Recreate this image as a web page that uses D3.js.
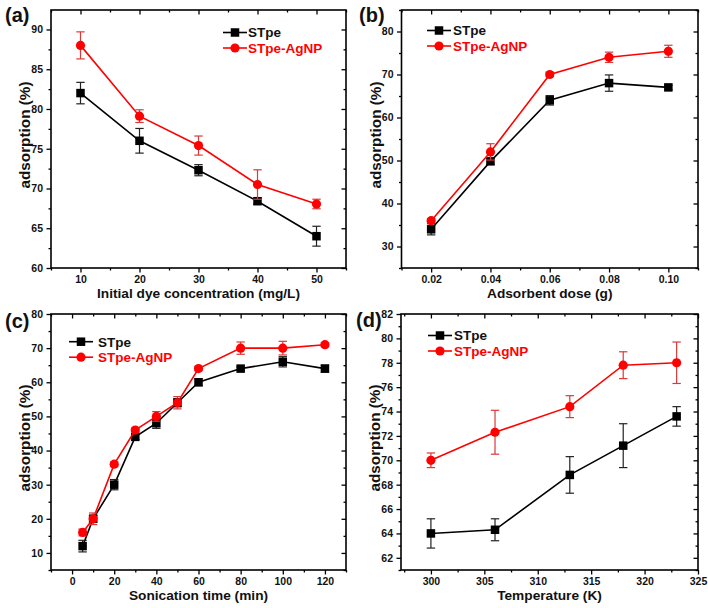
<!DOCTYPE html>
<html><head><meta charset="utf-8">
<script src="https://cdn.jsdelivr.net/npm/d3@7"></script>
<style>
body{margin:0;background:#fff}
text{font-family:"Liberation Sans",Arial,Helvetica,sans-serif;font-weight:bold;fill:#111}
</style>
</head><body>
<svg id="chart" width="708" height="608"></svg>
<script>
// ---------- data ----------
const seriesNames = ["STpe", "STpe-AgNP"];

// (a) initial dye concentration
const concX = [10, 20, 30, 40, 50];
const concSTpe = [82, 76, 72.3, 68.4, 64];
const concSTpeErr = [1.35, 1.55, 0.7, 0.4, 1.25];
const concAg = [88, 79.1, 75.4, 70.5, 68.05];
const concAgErr = [1.7, 0.8, 1.2, 1.85, 0.6];
const concXTicks = [10, 20, 30, 40, 50];
const concYTicks = [60, 65, 70, 75, 80, 85, 90];

// (b) adsorbent dose
const doseX = [0.02, 0.04, 0.06, 0.08, 0.10];
const doseSTpe = [34, 49.8, 64, 68, 67];
const doseSTpeErr = [1.3, 0.7, 1.1, 1.9, 0.5];
const doseAg = [36, 52, 70, 74, 75.4];
const doseAgErr = [0.5, 1.9, 0.5, 1.2, 1.4];
const doseXTicks = [0.02, 0.04, 0.06, 0.08, 0.10];
const doseYTicks = [30, 40, 50, 60, 70, 80];

// (c) sonication time
const timeX = [5, 10, 20, 30, 40, 50, 60, 80, 100, 120];
const timeSTpe = [12, 20, 30, 44, 48, 54, 60, 64, 66, 64];
const timeSTpeErr = [1.7, 1, 1.5, 0.8, 1.5, 1.2, 1, 0.5, 1.5, 1];
const timeAg = [16, 20, 36, 46, 50, 54, 64, 70, 70, 71];
const timeAgErr = [1, 1.7, 0.7, 0.6, 1.4, 1.8, 0.6, 1.8, 2, 0.6];
const timeXTicks = [0, 20, 40, 60, 80, 100, 120];
const timeYTicks = [10, 20, 30, 40, 50, 60, 70, 80];

// (d) temperature
const tempX = [300, 306, 313, 318, 323];
const tempSTpe = [64, 64.3, 68.8, 71.2, 73.6];
const tempSTpeErr = [1.2, 0.9, 1.5, 1.8, 0.8];
const tempAg = [70, 72.3, 74.4, 77.8, 78];
const tempAgErr = [0.6, 1.8, 0.9, 1.1, 1.7];
const tempXTicks = [300, 305, 310, 315, 320, 325];
const tempYTicks = [62, 64, 66, 68, 70, 72, 74, 76, 78, 80, 82];

// ---------- drawing ----------
const svg = d3.select("#chart");
const BLACK = "#000000", RED = "#ff0000";

const panels = [
  {label:"(a)", labelPos:[5,15], box:[51,346,10,268], xDom:[5,55], yDom:[60,92.45],
   xTicks:concXTicks, yTicks:concYTicks, xFmt:d3.format("d"), xTitle:"Initial dye concentration (mg/L)",
   legend:[223,248,32.5], x:concX, s1:concSTpe, e1:concSTpeErr, s2:concAg, e2:concAgErr},
  {label:"(b)", labelPos:[359,15], box:[401.5,698,10,268], xDom:[0.01,0.11], yDom:[25,85],
   xTicks:doseXTicks, yTicks:doseYTicks, xFmt:d3.format(".2f"), xTitle:"Adsorbent dose (g)",
   legend:[427,453,30.5], x:doseX, s1:doseSTpe, e1:doseSTpeErr, s2:doseAg, e2:doseAgErr},
  {label:"(c)", labelPos:[5,321], box:[51,346,314,570], xDom:[-10,130], yDom:[5,80],
   xTicks:timeXTicks, yTicks:timeYTicks, xFmt:d3.format("d"), xTitle:"Sonication time (min)",
   legend:[69,98,341.7], x:timeX, s1:timeSTpe, e1:timeSTpeErr, s2:timeAg, e2:timeAgErr},
  {label:"(d)", labelPos:[356,320], box:[401,698,314,570], xDom:[297.2,325], yDom:[61,82],
   xTicks:tempXTicks, yTicks:tempYTicks, xFmt:d3.format("d"), xTitle:"Temperature (K)",
   legend:[428,454,335.5], x:tempX, s1:tempSTpe, e1:tempSTpeErr, s2:tempAg, e2:tempAgErr}
];

function minors(ticks, dom) {
  const step = ticks[1] - ticks[0];
  const out = [];
  const lo = Math.min(dom[0], dom[1]) - 1e-9, hi = Math.max(dom[0], dom[1]) + 1e-9;
  for (let i = -1; i < ticks.length; i++) {
    const m = (i < 0 ? ticks[0] - step / 2 : ticks[i] + step / 2);
    if (m > lo && m < hi) out.push(m);
  }
  return out;
}

function drawSquare(g, cx, cy, color, s) {
  g.append("rect").attr("x", cx - s/2).attr("y", cy - s/2).attr("width", s).attr("height", s)
    .attr("fill", color);
}
function drawCircle(g, cx, cy, color, r) {
  g.append("circle").attr("cx", cx).attr("cy", cy).attr("r", r).attr("fill", color);
}

panels.forEach(p => {
  const [x0, x1, y0, y1] = p.box;
  const xs = d3.scaleLinear().domain(p.xDom).range([x0, x1]);
  const ys = d3.scaleLinear().domain(p.yDom).range([y1, y0]);
  const g = svg.append("g");

  // Axes via d3 axis generators (outward ticks on bottom/left, inward on top/right)
  const MAJ = 4.5, MIN = 2.5;
  const xMin = minors(p.xTicks, p.xDom), yMin = minors(p.yTicks, p.yDom);

  g.append("g").attr("transform", `translate(0,${y1})`)
    .call(d3.axisBottom(xs).tickValues(p.xTicks).tickFormat(p.xFmt).tickSize(MAJ).tickPadding(3.5));
  g.append("g").attr("transform", `translate(0,${y1})`)
    .call(d3.axisBottom(xs).tickValues(xMin).tickFormat("").tickSize(MIN));
  g.append("g").attr("transform", `translate(${x0},0)`)
    .call(d3.axisLeft(ys).tickValues(p.yTicks).tickFormat(d3.format("d")).tickSize(MAJ).tickPadding(3.5));
  g.append("g").attr("transform", `translate(${x0},0)`)
    .call(d3.axisLeft(ys).tickValues(yMin).tickFormat("").tickSize(MIN));
  g.append("g").attr("transform", `translate(0,${y0})`)
    .call(d3.axisTop(xs).tickValues(p.xTicks).tickFormat("").tickSize(-MAJ));
  g.append("g").attr("transform", `translate(0,${y0})`)
    .call(d3.axisTop(xs).tickValues(xMin).tickFormat("").tickSize(-MIN));
  g.append("g").attr("transform", `translate(${x1},0)`)
    .call(d3.axisRight(ys).tickValues(p.yTicks).tickFormat("").tickSize(-MAJ));
  g.append("g").attr("transform", `translate(${x1},0)`)
    .call(d3.axisRight(ys).tickValues(yMin).tickFormat("").tickSize(-MIN));

  g.selectAll(".domain").remove();
  g.selectAll(".tick line").attr("stroke", "#000").attr("stroke-width", 1.3);
  g.selectAll(".tick text").style("font-size", "10.5px").style("font-family", '"Liberation Sans",Arial,sans-serif')
    .style("font-weight", "bold").attr("fill", "#111");

  // frame
  g.append("rect").attr("x", x0).attr("y", y0).attr("width", x1 - x0).attr("height", y1 - y0)
    .attr("fill", "none").attr("stroke", "#000").attr("stroke-width", 1.6);

  // titles
  g.append("text").attr("x", (x0 + x1) / 2).attr("y", y1 + 29.5).attr("text-anchor", "middle")
    .style("font-size", "13.7px").text(p.xTitle);
  g.append("text").attr("transform", `translate(${x0 - 21},${(y0 + y1) / 2 - 4}) rotate(-90)`)
    .attr("text-anchor", "middle").style("font-size", "15.3px").text("adsorption (%)");
  g.append("text").attr("x", p.labelPos[0]).attr("y", p.labelPos[1]).attr("dy", "0.36em")
    .style("font-size", "20px").attr("fill", "#000").text(p.label);

  // series
  const line = d3.line().x(d => xs(d[0])).y(d => ys(d[1]));
  const sets = [
    {vals: p.s1, errs: p.e1, color: BLACK, errColor: "#222", shape: "sq"},
    {vals: p.s2, errs: p.e2, color: RED, errColor: "#d83a3a", shape: "ci"}
  ];
  sets.forEach(s => {
    const pts = p.x.map((xv, i) => [xv, s.vals[i], s.errs[i]]);
    g.append("path").datum(pts).attr("d", line).attr("fill", "none")
      .attr("stroke", s.color).attr("stroke-width", 1.6);
    pts.forEach(d => {
      const cx = xs(d[0]), top = ys(d[1] + d[2]), bot = ys(d[1] - d[2]);
      const eg = g.append("g").attr("stroke", s.errColor).attr("stroke-width", 1.2);
      eg.append("line").attr("x1", cx).attr("x2", cx).attr("y1", top).attr("y2", bot);
      eg.append("line").attr("x1", cx - 4.2).attr("x2", cx + 4.2).attr("y1", top).attr("y2", top);
      eg.append("line").attr("x1", cx - 4.2).attr("x2", cx + 4.2).attr("y1", bot).attr("y2", bot);
    });
    pts.forEach(d => {
      if (s.shape === "sq") drawSquare(g, xs(d[0]), ys(d[1]), s.color, 8.5);
      else drawCircle(g, xs(d[0]), ys(d[1]), s.color, 4.6);
    });
  });

  // legend
  const [lx, tx, ly] = p.legend;
  const rowGap = 15.5;
  seriesNames.forEach((name, i) => {
    const yy = ly + i * rowGap;
    const c = i === 0 ? BLACK : RED;
    g.append("line").attr("x1", lx).attr("x2", lx + 24).attr("y1", yy).attr("y2", yy)
      .attr("stroke", c).attr("stroke-width", 1.6);
    if (i === 0) drawSquare(g, lx + 12, yy, c, 8.5); else drawCircle(g, lx + 12, yy, c, 4.6);
    g.append("text").attr("x", tx).attr("y", yy).attr("dy", "0.36em")
      .style("font-size", "13.5px").style("fill", i === 0 ? "#111" : RED).text(name);
  });
});
</script>
</body></html>
